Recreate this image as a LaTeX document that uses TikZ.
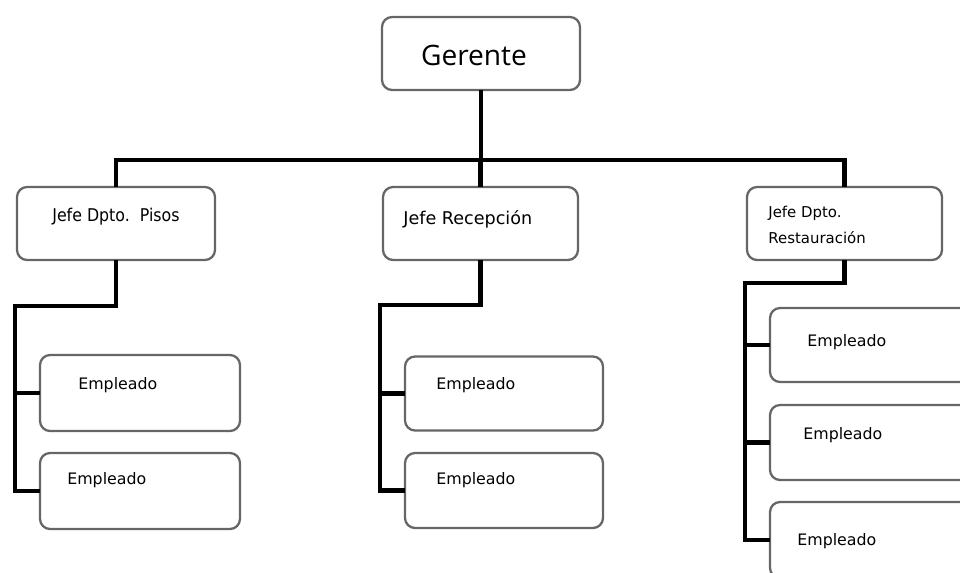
\documentclass[tikz,border=0pt]{standalone}
\usepackage{fontspec}
\setmainfont{DejaVu Sans}
\newfontfamily\titlefont{Open Sans}
\newfontfamily\condfont{DejaVu Sans Condensed}
\usepackage{tikz}

\begin{document}
\begin{tikzpicture}[x=0.02cm, y=-0.02cm,
	box/.style={shape=rectangle, draw=black!60, line width=1.3pt, rounded corners=0.2cm, inner sep=0, outer sep=0, minimum width=3.96cm, minimum height=1.46cm},
	wire/.style={line width=2.8pt, line join=miter},
	txt/.style={anchor=mid west, inner sep=0, font=\fontsize{9}{11}\selectfont}]
	\useasboundingbox (0, 0) rectangle (960, 572);
	\clip (0, 0) rectangle (960, 572);
	% Boxes:
	\node[box] (Ger) at (481, 53.5) {};
	\node[box] (Pis) at (116, 223.5) {};
	\node[box, minimum width=3.9cm] (Rec) at (480.5, 223.5) {};
	\node[box, minimum width=3.9cm] (Res) at (844.5, 223.5) {};
	\node[box, minimum width=4cm, minimum height=1.52cm] (Emp1) at (140, 393) {};
	\node[box, minimum width=4cm, minimum height=1.52cm] (Emp2) at (140, 491) {};
	\node[box, minimum height=1.48cm] (Emp3) at (504, 393.5) {};
	\node[box, minimum height=1.5cm] (Emp4) at (504, 490.5) {};
	\node[box, minimum width=4cm, minimum height=1.48cm] (Emp5) at (870, 345) {};
	\node[box, minimum width=4cm, minimum height=1.5cm] (Emp6) at (870, 442.5) {};
	\node[box, minimum width=4cm, minimum height=1.52cm] (Emp7) at (870, 540) {};
	% Texts:
	\node[anchor=center, inner sep=0, font=\titlefont\fontsize{16}{19}\selectfont] (GerT) at (474, 55) {Gerente};
	\node[txt, font=\condfont\fontsize{10}{12}\selectfont] (PisT) at (52, 217) {Jefe Dpto.\ \ Pisos};
	\node[txt, font=\fontsize{10}{12}\selectfont] (RecT) at (403, 220) {Jefe Recepción};
	\node[txt, font=\fontsize{8.5}{10}\selectfont] (ResT1) at (768, 213) {Jefe Dpto.};
	\node[txt, font=\fontsize{8.5}{10}\selectfont] (ResT2) at (768, 239) {Restauración};
	\node[txt] (EmpT1) at (78, 385) {Empleado};
	\node[txt] (EmpT2) at (67, 480) {Empleado};
	\node[txt] (EmpT3) at (436, 385) {Empleado};
	\node[txt] (EmpT4) at (436, 480) {Empleado};
	\node[txt] (EmpT5) at (807, 342) {Empleado};
	\node[txt] (EmpT6) at (803, 435) {Empleado};
	\node[txt] (EmpT7) at (797, 541) {Empleado};
	% Wires:
	\coordinate (Bus) at (0, 160);
	\coordinate (SpL) at (15, 306);
	\coordinate (SpM) at (380, 305);
	\coordinate (SpR) at (745, 283);
	\draw[wire] (Ger.south) -- (Ger.south |- Bus);
	\draw[wire] (Pis.north) |- (Res.north |- Bus) -- (Res.north);
	\draw[wire] (Rec.north |- Bus) -- (Rec.north);
	\draw[wire] (Pis.south) |- (SpL) -- (SpL |- Emp2.west) -- (Emp2.west);
	\draw[wire] (SpL |- Emp1.west) -- (Emp1.west);
	\draw[wire] (Rec.south) |- (SpM) -- (SpM |- Emp4.west) -- (Emp4.west);
	\draw[wire] (SpM |- Emp3.west) -- (Emp3.west);
	\draw[wire] (Res.south) |- (SpR) -- (SpR |- Emp7.west) -- (Emp7.west);
	\draw[wire] (SpR |- Emp5.west) -- (Emp5.west);
	\draw[wire] (SpR |- Emp6.west) -- (Emp6.west);
\end{tikzpicture}
\end{document}
